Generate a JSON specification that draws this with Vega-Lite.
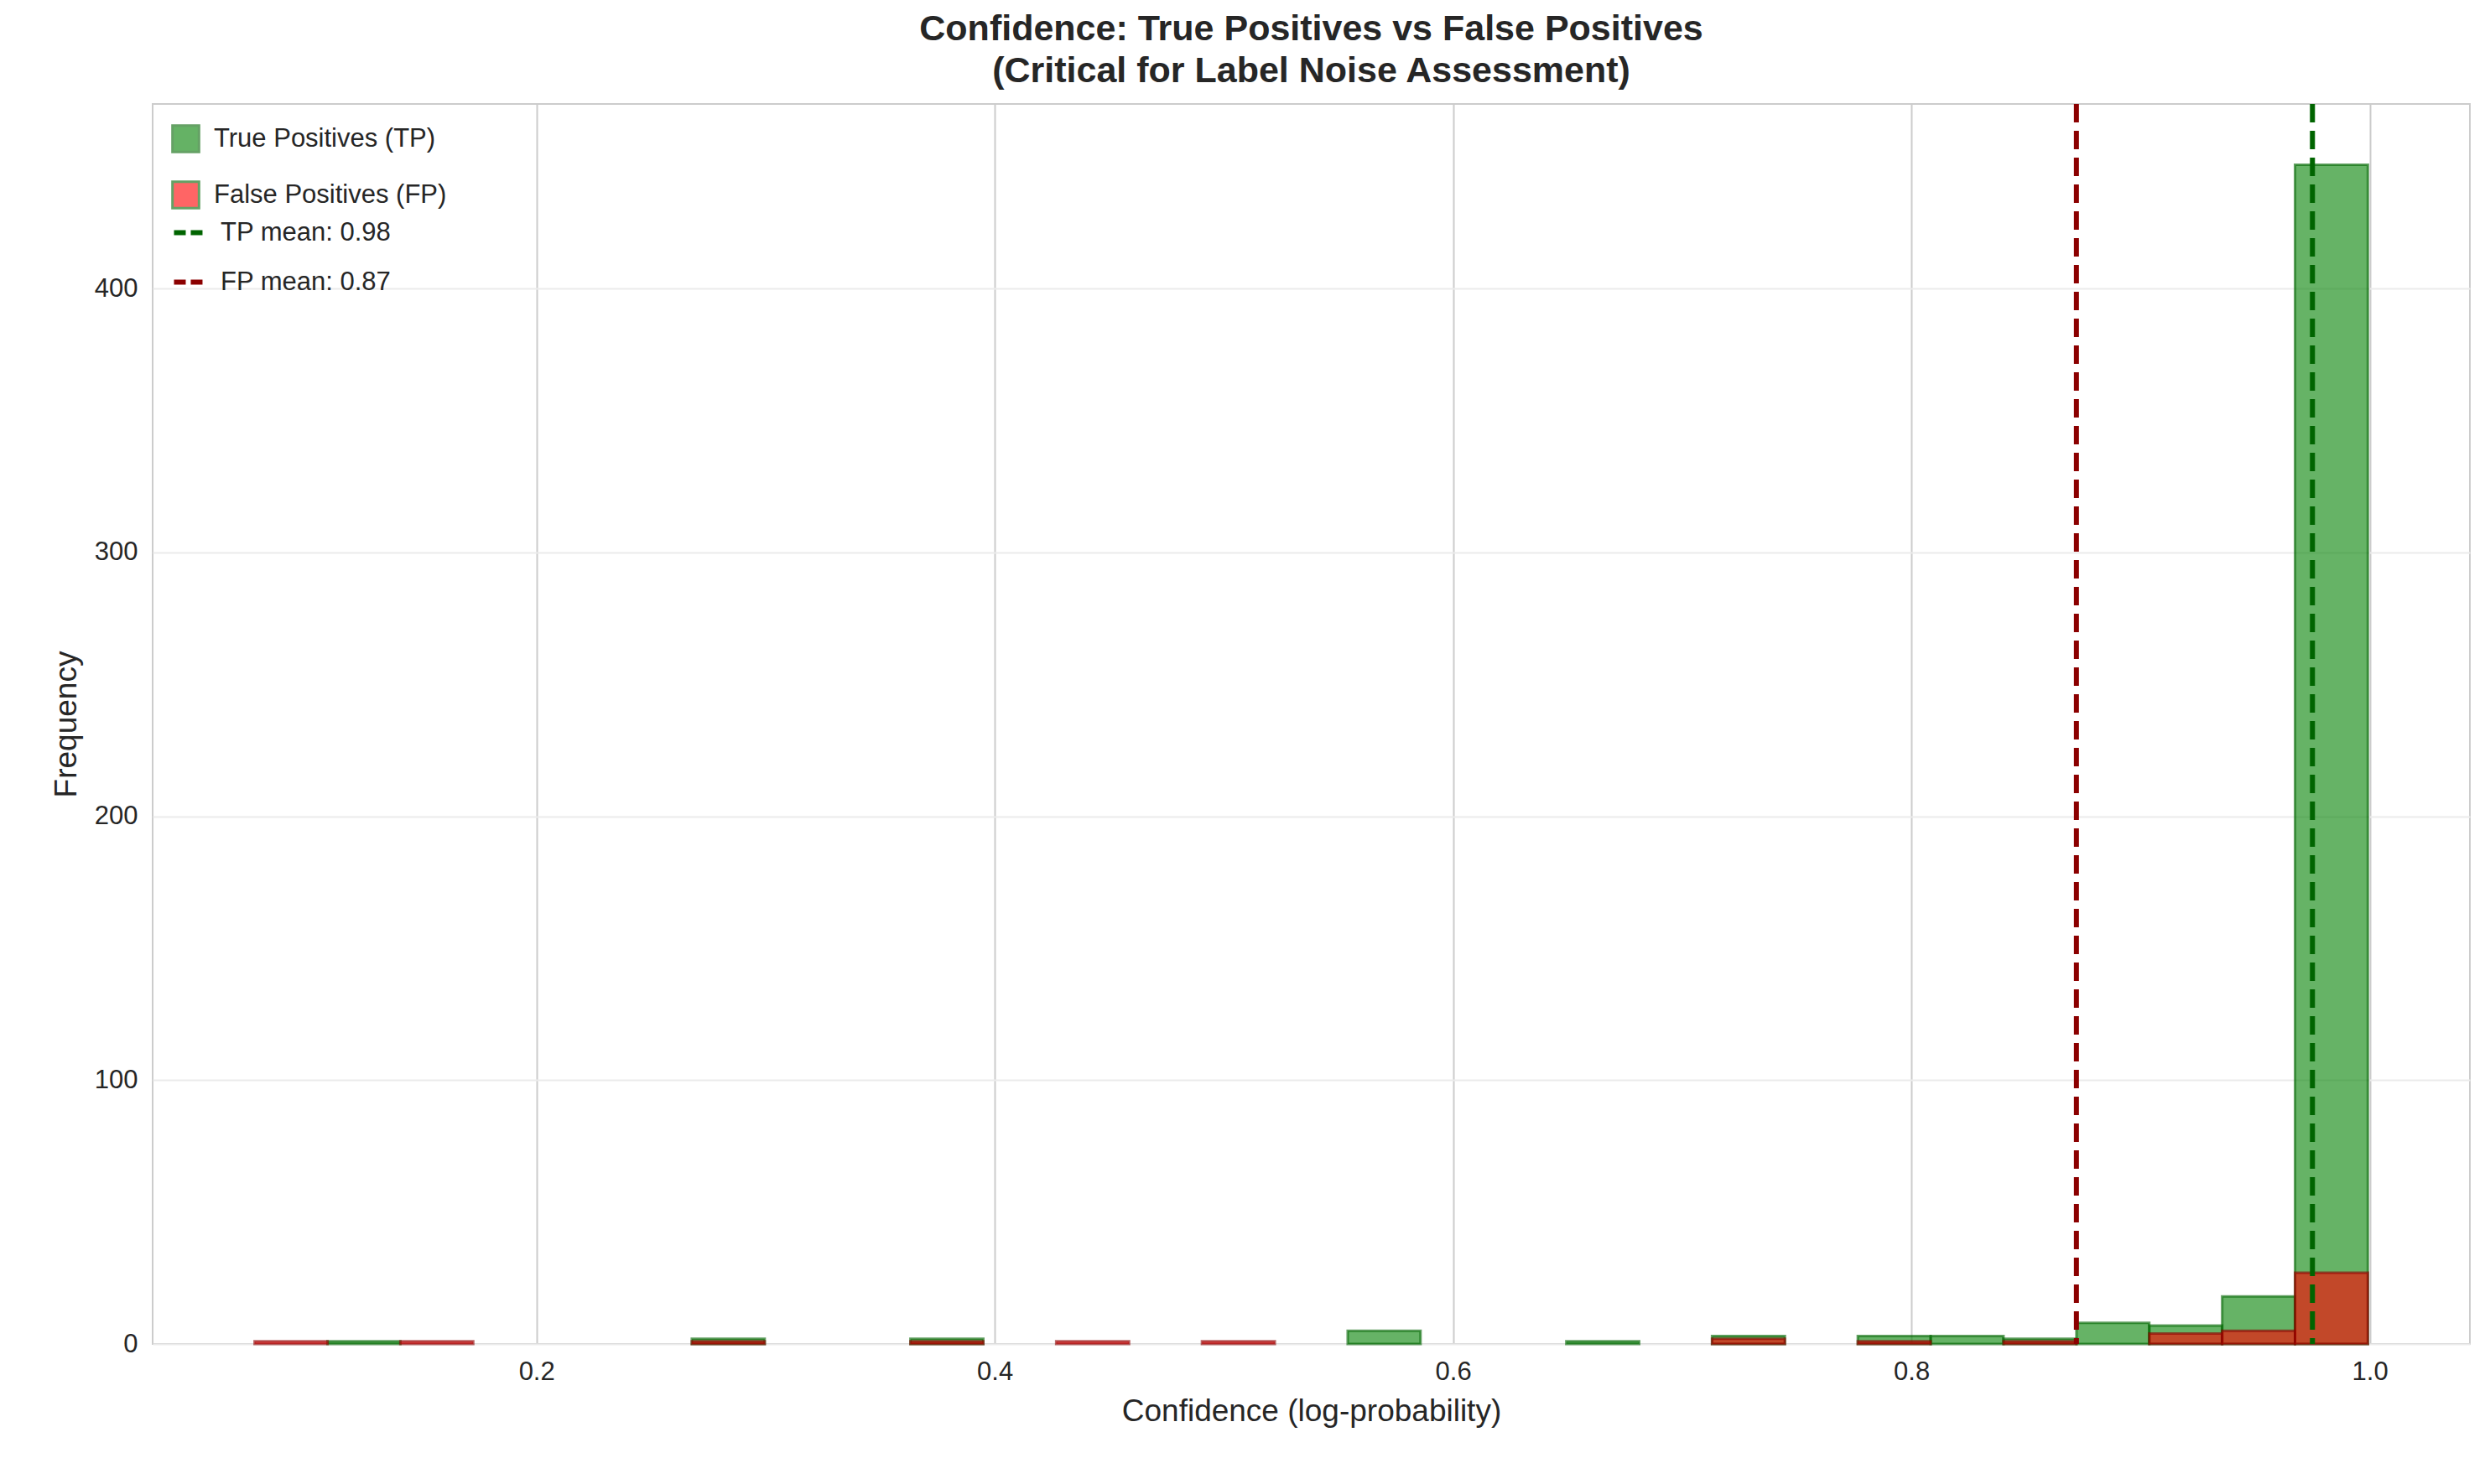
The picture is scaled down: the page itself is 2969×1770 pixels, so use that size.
{
  "$schema": "https://vega.github.io/schema/vega-lite/v6.json",
  "width": 2763,
  "height": 1479,
  "padding": {"left": 60, "top": 14, "right": 10, "bottom": 10},
  "background": "white",
  "title": {
    "text": ["Confidence: True Positives vs False Positives", "(Critical for Label Noise Assessment)"],
    "font": "Liberation Sans",
    "fontSize": 43,
    "fontWeight": "bold",
    "color": "#262626",
    "lineHeight": 50,
    "offset": 14
  },
  "config": {
    "font": "Liberation Sans",
    "view": {"stroke": "#cccccc", "strokeWidth": 2},
    "axis": {
      "labelFont": "Liberation Sans",
      "titleFont": "Liberation Sans",
      "labelFontSize": 31,
      "titleFontSize": 37,
      "titleFontWeight": "normal",
      "labelColor": "#262626",
      "titleColor": "#262626",
      "domain": false,
      "ticks": false,
      "labelPadding": 18,
      "titlePadding": 14
    },
    "legend": {
      "labelFont": "Liberation Sans",
      "labelFontSize": 31,
      "labelColor": "#262626",
      "labelLimit": 0
    }
  },
  "datasets": {
    "tp": [
      {"x0": 0.1088, "x1": 0.1406, "n": 1},
      {"x0": 0.2678, "x1": 0.2996, "n": 2},
      {"x0": 0.3632, "x1": 0.3950, "n": 2},
      {"x0": 0.5540, "x1": 0.5858, "n": 5},
      {"x0": 0.6494, "x1": 0.6812, "n": 1},
      {"x0": 0.7130, "x1": 0.7448, "n": 3},
      {"x0": 0.7766, "x1": 0.8084, "n": 3},
      {"x0": 0.8084, "x1": 0.8402, "n": 3},
      {"x0": 0.8402, "x1": 0.8720, "n": 2},
      {"x0": 0.8720, "x1": 0.9038, "n": 8},
      {"x0": 0.9038, "x1": 0.9356, "n": 7},
      {"x0": 0.9356, "x1": 0.9674, "n": 18},
      {"x0": 0.9674, "x1": 0.9992, "n": 447}
    ],
    "fp": [
      {"x0": 0.0770, "x1": 0.1088, "n": 1},
      {"x0": 0.1406, "x1": 0.1724, "n": 1},
      {"x0": 0.2678, "x1": 0.2996, "n": 1},
      {"x0": 0.3632, "x1": 0.3950, "n": 1},
      {"x0": 0.4268, "x1": 0.4586, "n": 1},
      {"x0": 0.4904, "x1": 0.5222, "n": 1},
      {"x0": 0.7130, "x1": 0.7448, "n": 2},
      {"x0": 0.7766, "x1": 0.8084, "n": 1},
      {"x0": 0.8402, "x1": 0.8720, "n": 1},
      {"x0": 0.9038, "x1": 0.9356, "n": 4},
      {"x0": 0.9356, "x1": 0.9674, "n": 5},
      {"x0": 0.9674, "x1": 0.9992, "n": 27}
    ],
    "means": [
      {"label": "TP mean: 0.98", "mean": 0.975},
      {"label": "FP mean: 0.87", "mean": 0.872}
    ]
  },
  "layer": [
    {
      "data": {"name": "tp"},
      "transform": [{"calculate": "'True Positives (TP)'", "as": "series"}],
      "mark": {"type": "rect", "fillOpacity": 0.6, "stroke": "darkgreen", "strokeWidth": 3, "strokeOpacity": 0.6},
      "encoding": {
        "x": {"field": "x0", "type": "quantitative", "scale": {"domain": [0.0325, 1.0437], "nice": false, "zero": false},
              "axis": {"values": [0.2, 0.4, 0.6, 0.8, 1.0], "format": ".1f", "title": "Confidence (log-probability)", "gridColor": "#cccccc", "gridWidth": 2}},
        "x2": {"field": "x1"},
        "y": {"field": "n", "type": "quantitative", "scale": {"domain": [0, 470], "nice": false},
              "axis": {"values": [0, 100, 200, 300, 400], "title": "Frequency", "gridColor": "#ebebeb", "gridWidth": 2}},
        "y2": {"datum": 0},
        "fill": {"field": "series", "type": "nominal",
                 "scale": {"domain": ["True Positives (TP)", "False Positives (FP)"], "range": ["green", "red"]},
                 "legend": {"title": null, "orient": "none", "legendX": 22, "legendY": 24, "symbolType": "square", "symbolSize": 1000, "symbolOpacity": 0.6, "symbolStrokeWidth": 3, "rowPadding": 22, "padding": 0, "labelOffset": 16}}
      }
    },
    {
      "data": {"name": "fp"},
      "transform": [{"calculate": "'False Positives (FP)'", "as": "series"}],
      "mark": {"type": "rect", "fillOpacity": 0.6, "stroke": "darkred", "strokeWidth": 3, "strokeOpacity": 0.6},
      "encoding": {
        "x": {"field": "x0", "type": "quantitative"},
        "x2": {"field": "x1"},
        "y": {"field": "n", "type": "quantitative"},
        "y2": {"datum": 0},
        "fill": {"field": "series", "type": "nominal", "legend": null}
      }
    },
    {
      "data": {"name": "means"},
      "mark": {"type": "rule", "strokeWidth": 6, "strokeDash": [22, 10]},
      "encoding": {
        "x": {"field": "mean", "type": "quantitative"},
        "stroke": {"field": "label", "type": "nominal",
                   "scale": {"domain": ["TP mean: 0.98", "FP mean: 0.87"], "range": ["darkgreen", "darkred"]},
                   "legend": {"title": null, "orient": "none", "legendX": 22, "legendY": 132, "symbolType": "stroke", "symbolStrokeWidth": 6, "symbolDash": [14, 6], "symbolSize": 1300, "rowPadding": 22, "padding": 0, "labelOffset": 16}}
      }
    }
  ],
  "resolve": {"legend": {"fill": "shared", "stroke": "independent"}}
}
